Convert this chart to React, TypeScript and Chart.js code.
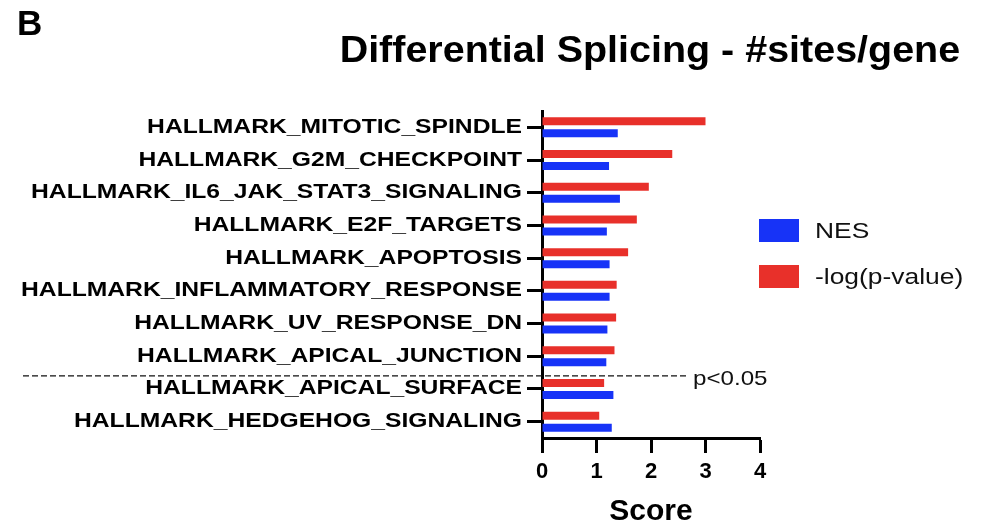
import React, { useEffect, useRef } from "react";
import { Chart, registerables } from "chart.js";

Chart.register(...registerables);

const categories = [
  "HALLMARK_MITOTIC_SPINDLE",
  "HALLMARK_G2M_CHECKPOINT",
  "HALLMARK_IL6_JAK_STAT3_SIGNALING",
  "HALLMARK_E2F_TARGETS",
  "HALLMARK_APOPTOSIS",
  "HALLMARK_INFLAMMATORY_RESPONSE",
  "HALLMARK_UV_RESPONSE_DN",
  "HALLMARK_APICAL_JUNCTION",
  "HALLMARK_APICAL_SURFACE",
  "HALLMARK_HEDGEHOG_SIGNALING",
];
const logP = [3.0, 2.39, 1.96, 1.74, 1.58, 1.37, 1.36, 1.33, 1.14, 1.05];
const nes = [1.39, 1.23, 1.43, 1.19, 1.24, 1.24, 1.2, 1.18, 1.31, 1.28];
const xTicks = [0, 1, 2, 3, 4];
const seriesNames = ["-log(p-value)", "NES"];
const seriesColors = ["#e8302a", "#1733f7"];
const thresholdPosition = 7.6; // between category 8 and 9
const thresholdLabel = "p<0.05";
const titleText = "Differential Splicing - #sites/gene";
const panelLabel = "B";
const xTitle = "Score";

const FONT = "'Liberation Sans', Arial, Helvetica, sans-serif";

// draws the category labels of the y scale, horizontally widened like the original
const yLabelPlugin = {
  id: "wideYLabels",
  afterDraw(chart: any) {
    const { ctx, scales } = chart;
    const ys = scales.y;
    const x = ys.right - 15 - 5;
    ctx.save();
    ctx.font = `bold 20px ${FONT}`;
    ctx.fillStyle = "#000";
    ctx.textAlign = "right";
    ctx.textBaseline = "middle";
    ys.ticks.forEach((t: any, i: number) => {
      const y = ys.getPixelForTick(i);
      ctx.save();
      ctx.translate(x, y);
      ctx.scale(1.233, 1);
      ctx.fillText(ys.getLabelForValue(t.value), 0, 0);
      ctx.restore();
    });
    ctx.restore();
  },
};

const thresholdPlugin = {
  id: "thresholdLine",
  afterDraw(chart: any) {
    const { ctx, chartArea, scales } = chart;
    const y = scales.y.getPixelForValue(thresholdPosition);
    ctx.save();
    const textX = chartArea.right - 67;
    ctx.save();
    ctx.font = `21px ${FONT}`;
    ctx.fillStyle = "#111";
    ctx.textBaseline = "middle";
    ctx.textAlign = "left";
    ctx.translate(textX, y + 3);
    ctx.scale(1.15, 1);
    ctx.fillText(thresholdLabel, 0, 0);
    ctx.restore();
    ctx.strokeStyle = "#111";
    ctx.lineWidth = 1.3;
    ctx.setLineDash([6, 3]);
    ctx.beginPath();
    ctx.moveTo(23, y);
    ctx.lineTo(textX - 5, y);
    ctx.stroke();
    ctx.restore();
  },
};

export default function App() {
  const ref = useRef<HTMLCanvasElement | null>(null);
  useEffect(() => {
    if (!ref.current) return;
    const chart = new Chart(ref.current, {
      type: "bar",
      data: {
        labels: categories,
        datasets: [
          {
            label: seriesNames[0],
            data: logP,
            backgroundColor: seriesColors[0],
            categoryPercentage: 0.734,
            barPercentage: 0.667,
          },
          {
            label: seriesNames[1],
            data: nes,
            backgroundColor: seriesColors[1],
            categoryPercentage: 0.734,
            barPercentage: 0.667,
          },
        ],
      },
      options: {
        indexAxis: "y",
        animation: false,
        responsive: true,
        maintainAspectRatio: false,
        layout: { padding: { left: 0, right: 224, top: 111, bottom: 0 } },
        plugins: {
          legend: { display: false },
          tooltip: { enabled: false },
          title: { display: false },
        },
        scales: {
          y: {
            afterFit(scale: any) {
              scale.width = 542;
            },
            border: { display: true, color: "#000", width: 3 },
            grid: {
              display: true,
              drawOnChartArea: false,
              drawTicks: true,
              offset: false,
              tickLength: 15,
              tickColor: "#000",
              tickWidth: 3,
              color: "#000",
            },
            ticks: {
              display: false,
              color: "#000",
              padding: 5,
              font: { family: FONT, size: 20, weight: "bold" },
            },
          },
          x: {
            min: 0,
            max: 4,
            afterFit(scale: any) {
              scale.height = 93;
            },
            afterBuildTicks(scale: any) {
              scale.ticks = xTicks.map((v) => ({ value: v }));
            },
            border: { display: true, color: "#000", width: 3 },
            grid: {
              display: true,
              drawOnChartArea: false,
              drawTicks: true,
              tickLength: 15,
              tickColor: "#000",
              tickWidth: 3,
              color: "#000",
            },
            ticks: {
              color: "#000",
              padding: 6,
              font: { family: FONT, size: 22, weight: "bold" },
            },
            title: {
              display: true,
              text: xTitle,
              color: "#000",
              padding: { top: 0, bottom: 1 },
              font: { family: FONT, size: 30, weight: "bold" },
            },
          },
        },
      },
      plugins: [yLabelPlugin, thresholdPlugin],
    } as any);
    return () => chart.destroy();
  }, []);

  const legendOrder = [1, 0];
  return (
    <div
      style={{
        position: "fixed",
        left: 0,
        top: 0,
        width: 984,
        height: 531,
        background: "#fff",
        fontFamily: FONT,
        overflow: "hidden",
      }}
    >
      <canvas ref={ref} style={{ position: "absolute", left: 0, top: 0 }} />
      <div
        style={{
          position: "absolute",
          left: 17,
          top: 5,
          fontSize: 35,
          fontWeight: "bold",
          lineHeight: 1,
          color: "#000",
        }}
      >
        {panelLabel}
      </div>
      <div
        style={{
          position: "absolute",
          right: 24,
          top: 32,
          fontSize: 36,
          fontWeight: "bold",
          lineHeight: 1,
          color: "#000",
          whiteSpace: "nowrap",
          transform: "scaleX(1.096)",
          transformOrigin: "right center",
        }}
      >
        {titleText}
      </div>
      {legendOrder.map((i, k) => (
        <div
          key={i}
          style={{
            position: "absolute",
            left: 759,
            top: 219 + k * 46,
            height: 23,
            display: "flex",
            alignItems: "center",
          }}
        >
          <div style={{ width: 40, height: 23, background: seriesColors[i] }} />
          <div
            style={{
              marginLeft: 16,
              fontSize: 22,
              color: "#111",
              whiteSpace: "nowrap",
              transform: "scaleX(1.2)",
              transformOrigin: "left center",
            }}
          >
            {seriesNames[i]}
          </div>
        </div>
      ))}
    </div>
  );
}
